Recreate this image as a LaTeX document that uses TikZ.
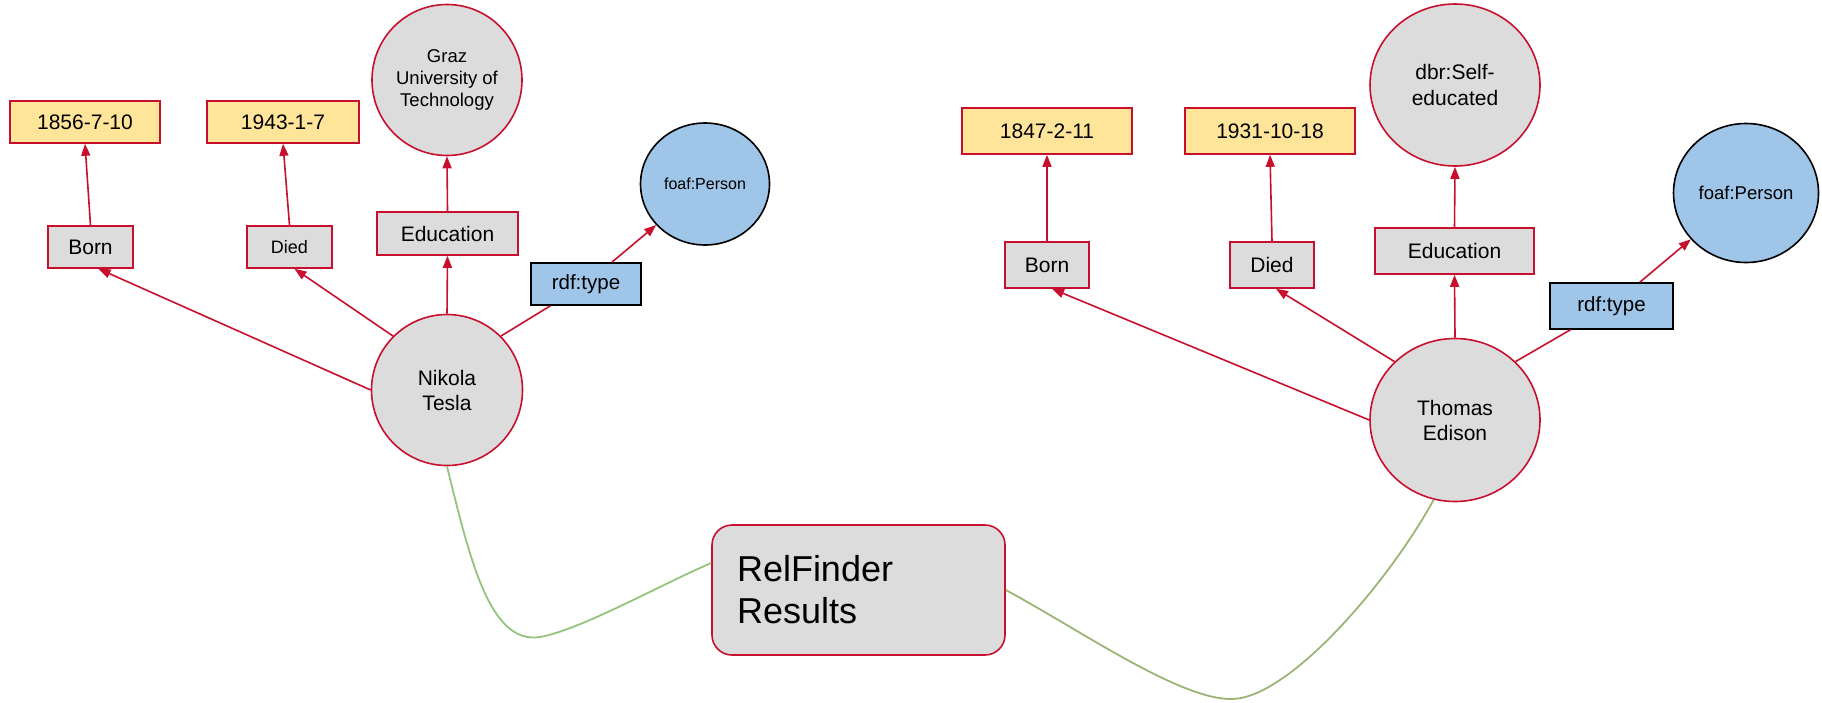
\documentclass[tikz,border=0pt]{standalone}
\usepackage{fontspec}
\setmainfont{Liberation Sans}
\usetikzlibrary{shapes.geometric,arrows.meta,calc}

\definecolor{edgered}{HTML}{C8102E}
\definecolor{nodegray}{HTML}{DCDCDC}
\definecolor{litfill}{HTML}{FFE599}
\definecolor{classblue}{HTML}{9FC5E8}
\definecolor{pathgreen}{HTML}{93C47D}
\definecolor{patholive}{HTML}{9BB576}

\tikzset{
  base/.style={inner sep=0pt, line width=1.6pt, text=black},
  literal/.style={base, rectangle, draw=edgered, fill=litfill,
    font=\fontsize{21}{25}\selectfont},
  property/.style={base, rectangle, draw=edgered, fill=nodegray,
    font=\fontsize{21}{25}\selectfont},
  resource/.style={base, ellipse, draw=edgered, fill=nodegray, align=center},
  classnode/.style={base, ellipse, draw=black, fill=classblue},
  typebox/.style={base, rectangle, draw=black, fill=classblue,
    font=\fontsize{20.5}{25}\selectfont},
  link/.style={draw=edgered, line width=1.6pt},
  arrowlink/.style={link, -{Triangle[length=12pt,width=9pt]}},
  relpath/.style={line width=1.8pt}
}

\begin{document}
\begin{tikzpicture}[x=1pt,y=-1pt]
\useasboundingbox (0,0) rectangle (1822,702);

% ---------- Nikola Tesla ----------
\node[resource, minimum width=151pt, minimum height=151pt,
      font=\fontsize{21}{25}\selectfont] (tesla) at (447,390) {Nikola\\Tesla};
\node[property, minimum width=85pt, minimum height=42pt] (born1) at (90.5,247) {Born};
\node[property, minimum width=85pt, minimum height=42pt,
      font=\fontsize{18}{22}\selectfont] (died1) at (289.5,247) {Died};
\node[property, minimum width=141pt, minimum height=43pt] (edu1) at (447.5,233.5) {Education};
\node[typebox, minimum width=110pt, minimum height=42pt] (type1) at (586,284) {rdf:type};
\node[literal, minimum width=150pt, minimum height=42pt] (birth1) at (85,122) {1856-7-10};
\node[literal, minimum width=152pt, minimum height=42pt] (death1) at (283,122) {1943-1-7};
\node[resource, minimum width=150pt, minimum height=151pt,
      font=\fontsize{18.5}{22}\selectfont] (graz) at (447,80)
      {Graz\\University of\\Technology};
\node[classnode, minimum width=129pt, minimum height=122pt,
      font=\fontsize{16}{19}\selectfont] (person1) at (705,184) {foaf:Person};

\draw[arrowlink] (tesla.west) -- ($(born1.south)+(8,0)$);
\draw[arrowlink] (tesla.135) -- ($(died1.south)+(5,0)$);
\draw[arrowlink] (tesla.north) -- (edu1.south);
\draw[link] (tesla.45) -- (type1);
\draw[arrowlink] (type1) -- (person1);
\draw[arrowlink] (born1.north) -- (birth1.south);
\draw[arrowlink] (died1.north) -- (death1.south);
\draw[arrowlink] (edu1.north) -- (graz.south);

% ---------- Thomas Edison ----------
\node[resource, minimum width=170pt, minimum height=163pt,
      font=\fontsize{21}{25}\selectfont] (edison) at (1455,420) {Thomas\\Edison};
\node[property, minimum width=84pt, minimum height=46pt] (born2) at (1047,265) {Born};
\node[property, minimum width=84pt, minimum height=46pt] (died2) at (1272,265) {Died};
\node[property, minimum width=159pt, minimum height=46pt] (edu2) at (1454.5,251) {Education};
\node[typebox, minimum width=123pt, minimum height=46pt] (type2) at (1611.5,306) {rdf:type};
\node[literal, minimum width=170pt, minimum height=46pt] (birth2) at (1047,131) {1847-2-11};
\node[literal, minimum width=170pt, minimum height=46pt] (death2) at (1270,131) {1931-10-18};
\node[resource, minimum width=170pt, minimum height=162pt,
      font=\fontsize{21}{26}\selectfont] (self) at (1455,85) {dbr:Self-\\educated};
\node[classnode, minimum width=145pt, minimum height=139pt,
      font=\fontsize{18.5}{22}\selectfont] (person2) at (1746,193) {foaf:Person};

\draw[arrowlink] (edison.west) -- ($(born2.south)+(5,0)$);
\draw[arrowlink] (edison.136) -- ($(died2.south)+(4,0)$);
\draw[arrowlink] (edison.north) -- (edu2.south);
\draw[link] (edison.44) -- (type2);
\draw[arrowlink] (type2) -- (person2);
\draw[arrowlink] (born2.north) -- (birth2.south);
\draw[arrowlink] (died2.north) -- (death2.south);
\draw[arrowlink] (edu2.north) -- (self.south);

% ---------- RelFinder result box and its paths ----------
\node[base, rectangle, rounded corners=20pt, draw=edgered, fill=nodegray,
      minimum width=293pt, minimum height=130pt, text width=243pt,
      inner xsep=25pt, align=left, font=\fontsize{36}{42}\selectfont]
      (rel) at (858.5,590) {RelFinder\\Results};

\draw[relpath, draw=pathgreen] (tesla.south)
  .. controls (470,560) and (490,645) .. (540,637)
  .. controls (580,630) and (660,585) .. ($(rel.west)+(0,-27)$);
\draw[relpath, draw=patholive] (rel.east)
  .. controls (1080,630) and (1180,700) .. (1232,699)
  .. controls (1290,698) and (1390,580) .. (edison.255);

\end{tikzpicture}
\end{document}
